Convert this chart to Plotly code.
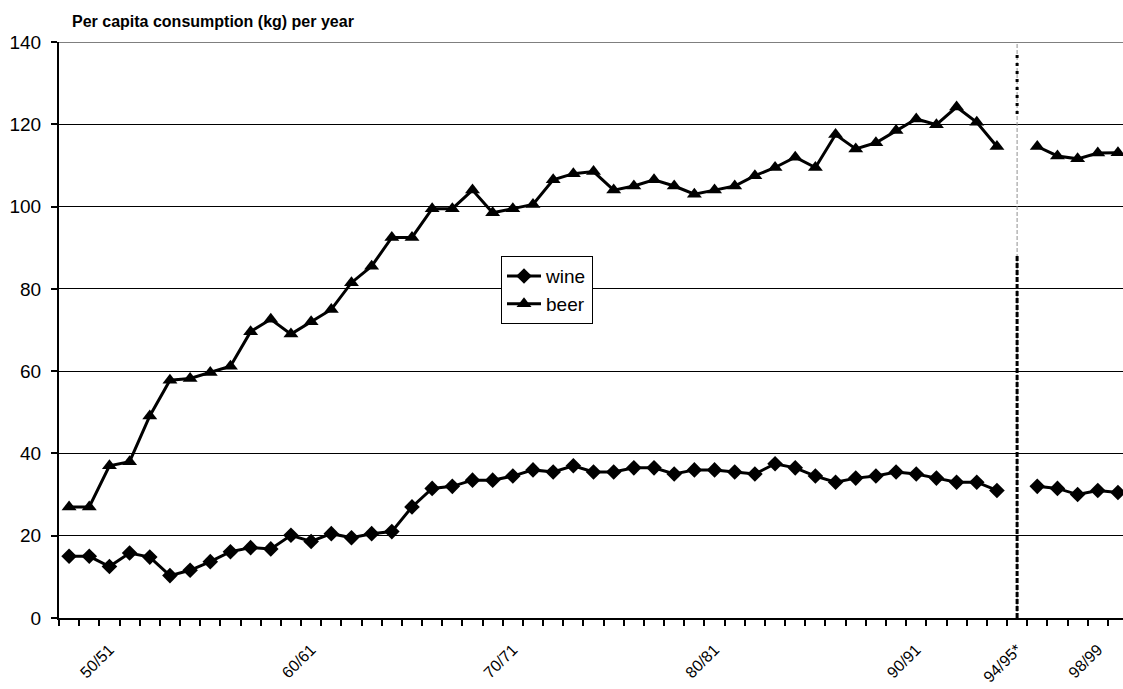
import plotly.graph_objects as go

# Crop years (categories); "94/95*" marks the change in statistical basis
years = [
    "48/49", "49/50", "50/51", "51/52", "52/53", "53/54", "54/55", "55/56",
    "56/57", "57/58", "58/59", "59/60", "60/61", "61/62", "62/63", "63/64",
    "64/65", "65/66", "66/67", "67/68", "68/69", "69/70", "70/71", "71/72",
    "72/73", "73/74", "74/75", "75/76", "76/77", "77/78", "78/79", "79/80",
    "80/81", "81/82", "82/83", "83/84", "84/85", "85/86", "86/87", "87/88",
    "88/89", "89/90", "90/91", "91/92", "92/93", "93/94", "94/95", "94/95*",
    "95/96", "96/97", "97/98", "98/99", "99/00",
]

# Per capita consumption (kg) per year
wine = [
    15.0, 15.0, 12.5, 15.8, 14.8, 10.3, 11.6, 13.7, 16.1, 17.1, 16.8, 20.1,
    18.6, 20.5, 19.5, 20.5, 21.0, 27.0, 31.5, 32.0, 33.5, 33.5, 34.5, 36.0,
    35.5, 37.0, 35.5, 35.5, 36.5, 36.5, 35.0, 36.0, 36.0, 35.5, 35.0, 37.5,
    36.5, 34.5, 33.0, 34.0, 34.5, 35.5, 35.0, 34.0, 33.0, 33.0, 31.0, None,
    32.0, 31.5, 30.0, 31.0, 30.5,
]
beer = [
    27.0, 27.0, 37.0, 38.0, 49.1, 57.8, 58.2, 59.7, 61.2, 69.6, 72.6, 69.0,
    72.0, 75.0, 81.5, 85.5, 92.5, 92.5, 99.5, 99.5, 104.0, 98.5, 99.5, 100.5,
    106.5, 108.0, 108.5, 104.0, 105.0, 106.5, 105.0, 103.0, 104.0, 105.0,
    107.5, 109.5, 112.0, 109.5, 117.5, 114.0, 115.5, 118.5, 121.3, 119.9,
    124.2, 120.5, 114.6, None,
    114.6, 112.3, 111.6, 113.0, 113.1,
]

# Labelled categories on the x axis
tick_labels = ["50/51", "60/61", "70/71", "80/81", "90/91", "94/95*", "98/99"]

# Break marker drawn at the "94/95*" category (value spans in kg)
break_label = "94/95*"
break_full = (0, 140)
break_lower = (0, 88)
break_upper = (122.5, 137)

y_ticks = [0, 20, 40, 60, 80, 100, 120, 140]

FONT = "Liberation Sans, Arial, sans-serif"
idx = list(range(len(years)))
bx = years.index(break_label)

fig = go.Figure()
fig.add_trace(go.Scatter(
    x=idx, y=wine, name="wine", mode="lines+markers",
    line=dict(color="black", width=3),
    marker=dict(symbol="diamond", size=12, color="black"),
    connectgaps=False,
))
fig.add_trace(go.Scatter(
    x=idx, y=beer, name="beer", mode="lines+markers",
    line=dict(color="black", width=3),
    marker=dict(symbol="triangle-up", size=13, color="black"),
    connectgaps=False,
))

# Vertical break line
fig.add_shape(type="line", xref="x", yref="y", x0=bx, x1=bx,
              y0=break_full[0], y1=break_full[1],
              line=dict(color="#909090", width=1, dash="4px,2px"), layer="above")
fig.add_shape(type="line", xref="x", yref="y", x0=bx, x1=bx,
              y0=break_lower[0], y1=break_lower[1],
              line=dict(color="black", width=3, dash="5px,2px"), layer="above")
fig.add_shape(type="line", xref="x", yref="y", x0=bx, x1=bx,
              y0=break_upper[0], y1=break_upper[1],
              line=dict(color="black", width=3, dash="3px,5px"), layer="above")

# Top frame line at 140
fig.add_shape(type="line", xref="paper", yref="y", x0=0, x1=1,
              y0=y_ticks[-1], y1=y_ticks[-1],
              line=dict(color="#7f7f7f", width=2), layer="above")

fig.update_layout(
    width=1123, height=689,
    margin=dict(l=59, r=0, t=42, b=71),
    paper_bgcolor="white", plot_bgcolor="white",
    font=dict(family=FONT, size=19, color="black"),
    title=dict(
        text="<b>Per capita consumption (kg) per year</b>",
        font=dict(family=FONT, size=16, color="black"),
        x=72 / 1123, xanchor="left", xref="container",
        y=1 - 21 / 689, yanchor="middle", yref="container",
    ),
    showlegend=True,
    legend=dict(
        x=(501 - 59) / 1064, y=(617.5 - 256) / 575.5,
        xanchor="left", yanchor="top",
        bgcolor="white", bordercolor="black", borderwidth=1,
        font=dict(family=FONT, size=19, color="black"),
        itemwidth=34, tracegroupgap=0,
    ),
)

fig.update_xaxes(
    range=[-0.5, 52.25],
    automargin=False,
    showgrid=False, zeroline=False,
    showline=True, linecolor="black", linewidth=2,
    tickmode="array",
    tickvals=[years.index(t) for t in tick_labels],
    ticktext=tick_labels,
    ticks="", tickangle=-45,
    tickfont=dict(family=FONT, size=16, color="black"),
    ticklabelstandoff=14,
    minor=dict(
        tickmode="array",
        tickvals=[i - 0.5 for i in idx],
        ticks="outside", ticklen=6, tickwidth=2, tickcolor="black",
        showgrid=False,
    ),
)
fig.update_yaxes(
    range=[0, 140],
    automargin=False,
    tickmode="array", tickvals=y_ticks,
    showgrid=True, gridcolor="black", gridwidth=1,
    zeroline=False,
    showline=True, linecolor="black", linewidth=2,
    ticks="outside", ticklen=6, tickwidth=2, tickcolor="black",
    tickfont=dict(family=FONT, size=19, color="black"),
    ticklabelstandoff=6,
)

fig.write_html("out.html")
